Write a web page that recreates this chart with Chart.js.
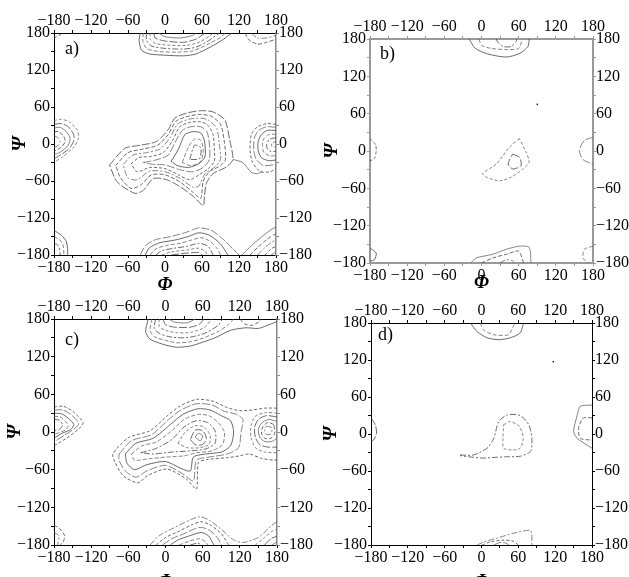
<!DOCTYPE html>
<html>
<head>
<meta charset="utf-8">
<script src="https://cdn.jsdelivr.net/npm/chart.js@4/dist/chart.umd.min.js"></script>
<style>
  body { margin: 0; background: #fff; overflow: hidden; }
  #wrap { position: relative; width: 629px; height: 577px; overflow: hidden; }
  canvas { position: absolute; }
</style>
</head>
<body>
<div id="wrap">
  <canvas id="pa" width="320" height="297" style="left:0;top:0"></canvas>
  <canvas id="pb" width="309" height="300" style="left:320px;top:0"></canvas>
  <canvas id="pc" width="320" height="303" style="left:0;top:290px"></canvas>
  <canvas id="pd" width="309" height="303" style="left:320px;top:290px"></canvas>
</div>
<script>
// axis ticks (degrees)
const tickMin = -180, tickMax = 180, tickStep = 30, labelStep = 60;

// contour lines, each one a list of [phi, psi] points

// ---- panel a
const aTop = [
  [[-40,180],[-42,168],[-38,152],[-25,146],[0,144],[30,143],[50,146],[75,158],[95,170],[108,180]],
  [[-35,180],[-36,168],[-30,155],[-10,150],[20,149],[45,151],[70,162],[90,173],[98,180]],
  [[-30,180],[-30,168],[-22,159],[0,155],[30,154],[50,157],[70,167],[88,180]],
  [[-24,180],[-24,170],[-15,163],[10,160],[35,160],[55,165],[72,175],[78,180]],
  [[-18,180],[-16,172],[0,167],[30,165],[50,170],[65,180]],
  [[-10,180],[0,174],[25,172],[45,176],[50,180]],
  [[130,180],[135,170],[150,162],[165,165],[180,170]],
  [[140,180],[150,172],[165,172],[180,176]],
  [[-180,172],[-172,176],[-165,180]]
];
const aBottom = [
  [[-40,-180],[-32,-165],[-15,-155],[10,-150],[35,-143],[55,-136],[75,-140],[95,-155],[110,-170],[120,-180]],
  [[-32,-180],[-25,-168],[-8,-160],[15,-156],[38,-150],[55,-144],[72,-148],[90,-162],[102,-180]],
  [[-24,-180],[-15,-170],[5,-164],[25,-161],[42,-156],[58,-152],[72,-157],[85,-170],[90,-180]],
  [[-15,-180],[-5,-173],[15,-169],[35,-166],[55,-161],[70,-166],[78,-180]],
  [[-5,-180],[10,-175],[35,-172],[55,-169],[65,-174],[68,-180]],
  [[10,-180],[35,-177],[55,-176],[60,-180]],
  [[125,-180],[140,-165],[160,-148],[175,-137],[180,-135]],
  [[138,-180],[150,-168],[165,-155],[180,-145]],
  [[150,-180],[162,-168],[172,-160],[180,-155]],
  [[162,-180],[172,-170],[180,-166]],
  [[172,-180],[180,-175]],
  [[-180,-140],[-168,-148],[-160,-158],[-158,-170],[-158,-180]],
  [[-180,-150],[-170,-156],[-165,-165],[-164,-180]],
  [[-180,-160],[-172,-166],[-170,-180]]
];
const aSides = [
  [[-180,38],[-168,40],[-155,36],[-142,22],[-140,10],[-148,-5],[-165,-20],[-180,-30]],
  [[-180,32],[-168,33],[-157,28],[-148,15],[-148,5],[-156,-8],[-170,-18],[-180,-24]],
  [[-180,26],[-170,27],[-160,20],[-154,10],[-157,-2],[-168,-12],[-180,-18]],
  [[-180,20],[-172,20],[-164,12],[-162,4],[-168,-5],[-180,-12]],
  [[-180,13],[-173,10],[-170,3],[-174,-3],[-180,-6]],
  [[180,32],[165,33],[150,28],[140,15],[138,-10],[142,-30],[155,-45],[170,-45],[180,-40]],
  [[180,27],[165,28],[152,22],[145,10],[144,-10],[148,-25],[160,-35],[180,-33]],
  [[180,22],[166,22],[156,15],[151,3],[151,-10],[156,-22],[168,-27],[180,-26]],
  [[180,16],[168,15],[160,8],[158,-3],[160,-13],[170,-19],[180,-19]],
  [[180,10],[170,8],[165,0],[166,-8],[172,-12],[180,-12]],
  [[180,4],[174,2],[173,-3],[180,-5]]
];
const aCenter = [
  [[-90,-34],[-65,-7],[-40,-2],[-14,4],[5,23],[16,42],[35,50],[57,54],[78,52],[97,39],[105,6],[110,-25],[100,-37],[78,-48],[67,-64],[64,-85],[62,-100],[46,-85],[24,-69],[3,-58],[-19,-56],[-35,-75],[-49,-80],[-78,-61],[-90,-34]],
  [[110,-25],[126,-30],[140,-46],[150,-48],[158,-44]],
  [[-80,-35],[-60,-14],[-35,-8],[-12,-2],[5,15],[18,37],[38,45],[58,48],[75,45],[90,32],[96,5],[98,-25],[90,-35],[72,-45],[62,-60],[58,-88],[45,-78],[25,-62],[0,-50],[-22,-50],[-40,-67],[-55,-72],[-72,-55],[-80,-35]],
  [[-68,-33],[-52,-18],[-30,-14],[-8,-8],[8,10],[20,32],[38,40],[58,42],[72,38],[84,25],[88,0],[90,-25],[80,-38],[65,-48],[55,-68],[45,-70],[25,-56],[0,-45],[-25,-44],[-45,-58],[-60,-55],[-68,-33]],
  [[-55,-32],[-42,-22],[-22,-20],[-3,-14],[12,5],[24,28],[40,35],[58,36],[70,30],[78,15],[80,-10],[80,-28],[70,-40],[55,-50],[40,-58],[22,-50],[0,-40],[-25,-38],[-45,-45],[-55,-32]],
  [[-35,-30],[-15,-26],[5,-18],[16,2],[28,22],[42,28],[58,28],[68,20],[72,0],[72,-25],[62,-38],[45,-45],[25,-42],[0,-34],[-20,-33],[-35,-30]],
  [[10,-28],[22,-8],[32,15],[45,20],[58,18],[64,5],[65,-20],[55,-32],[38,-38],[20,-35],[10,-28]],
  [[28,-30],[38,-5],[48,8],[58,6],[62,-10],[58,-28],[42,-35],[28,-30]],
  [[40,-25],[48,-2],[58,-6],[56,-24],[40,-25]]
];

// ---- panel b
const bLines = [
  [[-20,180],[-10,165],[10,156],[40,151],[62,157],[75,168],[77,180]],
  [[-4,180],[0,170],[15,165],[40,163],[60,165],[66,180]],
  [[24,180],[26,175],[35,168],[48,168],[56,176],[57,180]],
  [[61,20],[45,6],[24,-21],[2,-36],[8,-42],[29,-48],[48,-42],[67,-29],[77,-18],[72,-2],[61,20]],
  [[50,-5],[61,-10],[64,-23],[51,-29],[43,-21],[50,-5]],
  [[-17,-180],[-9,-172],[18,-166],[40,-158],[61,-153],[77,-155],[80,-180]],
  [[0,-180],[18,-172],[40,-166],[60,-161],[68,-180]],
  [[29,-180],[40,-175],[50,-176],[53,-180]],
  [[-180,20],[-171,10],[-170,0],[-173,-12],[-180,-16]],
  [[180,22],[166,17],[158,1],[164,-14],[180,-21]],
  [[-180,-156],[-170,-164],[-173,-175],[-180,-177]],
  [[180,-153],[166,-158],[164,-172],[172,-180]]
];
const bDots = [[90,75]];

// ---- panel c
const cTop = [
  [[-28,180],[-32,160],[-25,148],[-5,140],[18,135],[40,137],[60,143],[80,150],[105,162],[130,166],[150,165],[170,172],[180,176]],
  [[-22,180],[-25,162],[-18,152],[0,146],[20,142],[42,144],[62,150],[85,160],[100,170],[110,180]],
  [[-16,180],[-18,165],[-10,157],[5,152],[25,150],[45,152],[65,158],[85,170],[92,180]],
  [[-10,180],[-10,168],[0,162],[20,158],[42,159],[62,166],[75,180]],
  [[-4,180],[0,171],[15,167],[40,167],[55,172],[62,180]],
  [[5,180],[15,175],[35,174],[48,180]],
  [[120,180],[128,172],[140,170],[150,175],[155,180]]
];
const cBottom = [
  [[-25,-180],[-10,-165],[15,-152],[40,-140],[55,-135],[70,-140],[90,-155],[110,-172],[125,-176],[150,-168],[170,-150],[180,-143]],
  [[-15,-180],[0,-168],[22,-158],[42,-148],[57,-143],[72,-148],[90,-162],[102,-180]],
  [[-5,-180],[10,-170],[30,-162],[45,-155],[58,-152],[72,-157],[85,-170],[90,-180]],
  [[8,-180],[20,-172],[40,-165],[58,-160],[70,-166],[78,-180]],
  [[22,-180],[38,-174],[55,-170],[65,-175],[68,-180]],
  [[40,-180],[52,-177],[58,-180]],
  [[145,-180],[160,-168],[172,-158],[180,-155]],
  [[160,-180],[170,-170],[180,-166]],
  [[172,-180],[180,-175]],
  [[-180,-148],[-170,-155],[-163,-165],[-165,-175],[-170,-180]],
  [[-180,-160],[-172,-165],[-174,-180]]
];
const cSides = [
  [[-180,40],[-165,41],[-150,33],[-133,15],[-140,5],[-160,-10],[-180,-22]],
  [[-180,35],[-166,35],[-153,28],[-140,14],[-146,6],[-163,-5],[-180,-16]],
  [[-180,30],[-168,29],[-157,22],[-148,12],[-153,4],[-167,-2],[-180,-10]],
  [[-180,25],[-170,24],[-162,17],[-157,10],[-162,3],[-180,-4]],
  [[-180,20],[-172,19],[-166,12],[-170,5],[-180,2]],
  [[180,30],[162,31],[145,25],[138,10],[138,-8],[145,-25],[160,-32],[180,-33]],
  [[180,24],[163,26],[150,20],[144,8],[145,-8],[152,-20],[165,-24],[180,-24]],
  [[180,17],[166,20],[155,14],[150,4],[152,-8],[160,-15],[172,-15],[180,-10]],
  [[175,12],[165,15],[157,8],[155,-2],[160,-10],[170,-10],[176,-2],[175,12]],
  [[170,8],[163,9],[160,3],[163,-4],[170,-3],[172,3],[170,8]]
];
const cCenter = [
  [[180,38],[160,38],[140,35],[120,34],[99,39],[77,49],[50,52],[23,41],[2,25],[-25,2],[-60,-9],[-85,-35],[-81,-49],[-68,-70],[-44,-81],[-30,-70],[2,-59],[34,-75],[50,-91],[53,-49],[66,-44],[99,-41],[120,-38],[135,-35],[155,-42],[175,-45],[180,-44]],
  [[-75,-35],[-55,-14],[-22,-4],[5,20],[25,35],[50,45],[75,43],[95,33],[115,28],[125,20],[122,0],[118,-25],[100,-35],[70,-40],[50,-45],[45,-78],[30,-68],[0,-53],[-30,-62],[-48,-72],[-65,-62],[-75,-45],[-75,-35]],
  [[-65,-35],[-48,-18],[-20,-10],[8,12],[28,28],[52,37],[72,35],[90,26],[105,18],[110,0],[105,-22],[90,-32],[65,-35],[45,-40],[40,-62],[25,-58],[0,-47],[-30,-52],[-50,-60],[-62,-50],[-65,-35]],
  [[-55,-35],[-38,-22],[-15,-16],[10,2],[30,20],[52,28],[70,26],[85,15],[95,0],[92,-20],[75,-30],[50,-33],[30,-38],[0,-40],[-30,-43],[-50,-45],[-55,-35]],
  [[-40,-33],[-15,-26],[10,-12],[30,8],[50,18],[68,15],[80,2],[80,-18],[65,-27],[40,-30],[10,-32],[-20,-35],[-40,-33]],
  [[20,-18],[32,0],[48,10],[62,8],[72,-5],[70,-20],[55,-25],[35,-25],[20,-18]],
  [[40,-12],[48,3],[60,2],[66,-10],[60,-20],[48,-20],[40,-12]],
  [[48,-8],[53,-2],[60,-6],[56,-14],[48,-8]]
];

// ---- panel d
const dLines = [
  [[-18,180],[-7,166],[9,156],[28,153],[47,156],[63,164],[68,178],[68,180]],
  [[-2,180],[3,169],[20,161],[44,161],[52,175],[55,180]],
  [[-35,-34],[-13,-34],[9,-23],[20,-7],[28,20],[42,31],[63,30],[77,15],[82,-7],[80,-28],[63,-36],[39,-37],[20,-38],[0,-39],[-20,-37],[-35,-35]],
  [[36,15],[47,20],[62,12],[68,-7],[63,-23],[50,-26],[36,-23],[35,-7],[36,15]],
  [[-180,26],[-173,15],[-171,1],[-176,-10],[-180,-12]],
  [[180,47],[161,45],[156,31],[150,4],[156,-7],[172,-18],[180,-23]],
  [[180,26],[166,26],[158,9],[161,-7],[180,-10]],
  [[-7,-180],[4,-175],[25,-169],[52,-161],[80,-157],[82,-180]],
  [[1,-180],[14,-175],[36,-172],[52,-174],[60,-180]],
  [[20,-180],[30,-176],[40,-177],[45,-180]]
];
const dDots = [[117,117]];

const serif = 'Liberation Serif';
const dashes = [[], [4, 2], [6, 2, 2, 2], [3, 2], [8, 2]];

function toDatasets(lines, dots) {
    const sets = lines.map((line, i) => ({
        data: line.map(p => ({ x: p[0], y: p[1] })),
        showLine: true,
        borderColor: i % 2 ? '#666' : '#444',
        borderWidth: 0.8,
        borderDash: dashes[i % dashes.length],
        pointRadius: 0,
        tension: 0.25,
        fill: false
    }));
    if (dots) {
        sets.push({
            data: dots.map(p => ({ x: p[0], y: p[1] })),
            showLine: false,
            pointRadius: 0.8,
            pointBackgroundColor: '#000',
            pointBorderWidth: 0
        });
    }
    return sets;
}

function tickLabel(v) {
    return v % labelStep === 0 ? String(v).replace('-', '\u2212') : '';
}

function makeAxis(pos, size, frame, title) {
    const horizontal = pos === 'top' || pos === 'bottom';
    const axis = {
        type: 'linear',
        position: pos,
        min: tickMin,
        max: tickMax,
        afterFit: s => { if (horizontal) s.height = size; else s.width = size; },
        border: { display: true, color: frame.color, width: frame.width },
        grid: { drawOnChartArea: false, drawTicks: true, tickLength: 3, color: frame.color },
        ticks: {
            stepSize: tickStep,
            autoSkip: false,
            maxRotation: 0,
            padding: pos === 'left' ? 1 : 0,
            color: '#000',
            font: { family: serif, size: 16 },
            callback: tickLabel
        }
    };
    if (title) {
        axis.title = {
            display: true,
            text: title.text,
            color: '#000',
            font: { family: serif, size: 19, style: 'italic', weight: 'bold' },
            padding: title.padding
        };
    }
    return axis;
}

const letterPlugin = {
    id: 'letter',
    afterDraw(chart, args, opts) {
        const { ctx, chartArea } = chart;
        ctx.save();
        ctx.font = '18px "Liberation Serif"';
        ctx.fillStyle = '#000';
        ctx.textBaseline = 'alphabetic';
        ctx.fillText(opts.text, chartArea.left + opts.dx, chartArea.top + opts.dy);
        ctx.restore();
    }
};

function makePanel(id, lines, dots, cfg) {
    new Chart(document.getElementById(id), {
        type: 'scatter',
        data: { datasets: toDatasets(lines, dots) },
        options: {
            responsive: false,
            animation: false,
            layout: { padding: 0 },
            plugins: {
                legend: { display: false },
                tooltip: { enabled: false },
                letter: { text: cfg.letter, dx: cfg.dx, dy: cfg.dy }
            },
            scales: {
                x: makeAxis('bottom', cfg.bottom, cfg.frame, { text: '\u03A6', padding: { top: 0, bottom: cfg.phiPad } }),
                x2: makeAxis('top', cfg.top, cfg.frame),
                y: makeAxis('left', cfg.left, cfg.frame, { text: '\u03A8', padding: { top: cfg.psiPad, bottom: 0 } }),
                y2: makeAxis('right', cfg.right, cfg.frameRight || cfg.frame)
            }
        },
        plugins: [letterPlugin]
    });
}

const black = { color: '#000', width: 1 };
const gray = { color: '#999', width: 2 };
const grayThin = { color: '#888', width: 1.5 };

makePanel('pa', [...aTop, ...aBottom, ...aSides, ...aCenter], null,
    { letter: 'a)', dx: 11, dy: 21, left: 54, right: 44, top: 33, bottom: 42, frame: black, frameRight: grayThin, psiPad: 9, phiPad: 1 });
makePanel('pb', bLines, bDots,
    { letter: 'b)', dx: 10, dy: 20, left: 50, right: 36, top: 39, bottom: 37, frame: gray, psiPad: 1, phiPad: 6 });
makePanel('pc', [...cTop, ...cBottom, ...cSides, ...cCenter], null,
    { letter: 'c)', dx: 11, dy: 26, left: 54, right: 43, top: 29, bottom: 48, frame: black, frameRight: grayThin, psiPad: 4, phiPad: 0 });
makePanel('pd', dLines, dDots,
    { letter: 'd)', dx: 7, dy: 17, left: 51, right: 37, top: 33, bottom: 48, frame: black, psiPad: 0, phiPad: 0 });
</script>
</body>
</html>
